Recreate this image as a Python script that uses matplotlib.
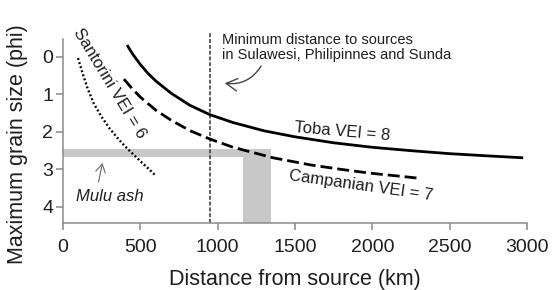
import matplotlib
matplotlib.use("Agg")
import matplotlib.pyplot as plt
import numpy as np

plt.rcParams['font.family'] = ['Liberation Sans', 'DejaVu Sans']

# --- data ---
toba_km = [414, 450, 500, 550, 600, 700, 821, 950, 1100, 1300, 1500, 1750, 2000, 2250, 2500, 2750, 2975]
toba_phi = [-0.32, -0.08, 0.20, 0.44, 0.64, 0.97, 1.29, 1.54, 1.75, 1.97, 2.13, 2.29, 2.41, 2.50, 2.58, 2.64, 2.69]

camp_km = [394, 450, 500, 600, 700, 823, 950, 1100, 1358, 1600, 1800, 1985, 2150, 2290]
camp_phi = [0.59, 0.86, 1.07, 1.42, 1.69, 1.97, 2.19, 2.41, 2.69, 2.88, 3.00, 3.10, 3.17, 3.23]

sant_km = [97, 130, 160, 200, 250, 300, 350, 400, 450, 500, 550, 595]
sant_phi = [0.03, 0.48, 0.85, 1.25, 1.6, 1.9, 2.15, 2.38, 2.58, 2.78, 2.97, 3.15]

min_distance_km = 950
mulu_phi = (2.45, 2.67)
mulu_km = (1164, 1345)

xticks = [0, 500, 1000, 1500, 2000, 2500, 3000]
yticks = [0, 1, 2, 3, 4]

# --- figure ---
W, H = 553, 290
fig = plt.figure(figsize=(W / 100, H / 100), dpi=100)
ax = fig.add_axes([63 / W, 1 - 223 / H, 464 / W, (223 - 39) / H])
ymin_top, ymax_bot = -0.48, 4.43
ax.set_xlim(0, 3000)
ax.set_ylim(ymax_bot, ymin_top)

txt = '#1e1e1e'
spc = '#8a8a8a'
for s in ['top', 'right']:
    ax.spines[s].set_visible(False)
for s in ['left', 'bottom']:
    ax.spines[s].set_color(spc)
    ax.spines[s].set_linewidth(1.1)

ax.set_xticks(xticks)
ax.set_yticks(yticks)
ax.tick_params(axis='both', colors=spc, labelcolor=txt, labelsize=14, width=1.1, length=5)
ax.tick_params(axis='x', pad=6.2)
ax.tick_params(axis='y', pad=2)

# gray band (Mulu ash)
band = '#c8c8c8'
ax.fill_between([0, mulu_km[1]], mulu_phi[0], mulu_phi[1], color=band, lw=0, zorder=1)
ax.fill_between([mulu_km[0], mulu_km[1]], mulu_phi[1], ymax_bot, color=band, lw=0, zorder=1)

# curves
ax.plot(toba_km, toba_phi, color='black', lw=2.0, solid_capstyle='butt', zorder=3)
ax.plot(camp_km, camp_phi, color='black', lw=2.0, dashes=(4.3, 1.8), zorder=3)
ax.plot(sant_km, sant_phi, color='black', lw=1.7, dashes=(0.8, 1.0), zorder=3)

# vertical minimum distance line
ax.plot([min_distance_km, min_distance_km], [ymax_bot, -0.66], color='#333333', lw=1.1,
        dashes=(2.6, 1.2), clip_on=False, zorder=2)

# labels
ax.text(1028, -0.64, 'Minimum distance to sources\nin Sulawesi, Philipinnes and Sunda',
        fontsize=10.5, color=txt, ha='left', va='top', linespacing=1.05)
ax.annotate('', xy=(1028, 0.69), xytext=(1290, 0.18),
            arrowprops=dict(arrowstyle='->,head_length=0.8,head_width=0.45', color='#444444', lw=1.0,
                            connectionstyle='arc3,rad=-0.35'))

ax.text(1804, 2.0, 'Toba VEI = 8', fontsize=12, color=txt, rotation=-5,
        ha='center', va='center', rotation_mode='anchor')
ax.text(1927, 3.43, 'Campanian VEI = 7', fontsize=12, color=txt, rotation=-8,
        ha='center', va='center', rotation_mode='anchor')
ax.text(300, 0.71, 'Santorini VEI = 6', fontsize=12, color=txt, rotation=-58.7,
        ha='center', va='center', rotation_mode='anchor')
ax.text(304, 3.73, 'Mulu ash', fontsize=12, color=txt, style='italic',
        ha='center', va='center')
ax.annotate('', xy=(259, 2.75), xytext=(226, 3.41),
            arrowprops=dict(arrowstyle='->,head_length=0.6,head_width=0.35', color='#777777', lw=0.9))

ax.set_xlabel('Distance from source (km)', fontsize=15.5, color=txt, labelpad=9.5)
fig.text(18 / W, 1 - 144 / H, 'Maximum grain size (phi)', fontsize=15.5, color=txt,
         rotation=90, ha='center', va='center')

fig.savefig('out.png', dpi=100)
